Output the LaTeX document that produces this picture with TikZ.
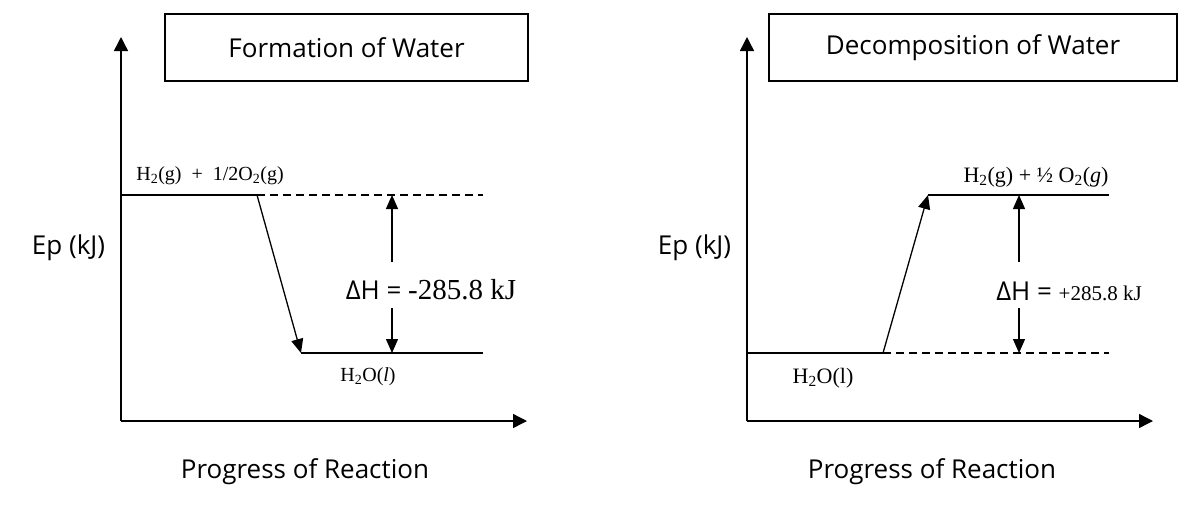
\documentclass[tikz,border=0pt]{standalone}
\usepackage{fontspec}
\setmainfont{Liberation Serif}
\newfontfamily\labelfont{Open Sans}
\usetikzlibrary{arrows.meta, positioning, calc}
\tikzset{
  titlebox/.style={draw, line width=1.3pt, align=center, inner sep=0pt,
    minimum height=67pt, font=\labelfont\fontsize{26}{30}\selectfont},
  axislabel/.style={inner sep=0pt, font=\labelfont\fontsize{26}{30}\selectfont},
  chemsmall/.style={inner sep=0pt, font=\fontsize{20}{24}\selectfont},
  chembig/.style={inner sep=0pt, font=\fontsize{22}{26}\selectfont},
  dhlabel/.style={inner sep=0pt},
  axisarrow/.style={-{Triangle[length=14pt, width=14pt]}, line width=1.4pt},
  levelline/.style={line width=1.4pt},
  guideline/.style={line width=1.2pt, dash pattern=on 8pt off 5pt},
  patharrow/.style={-{Triangle[length=14pt, width=12pt]}, line width=1.3pt},
  dharrow/.style={-{Triangle[length=14pt, width=12pt]}, line width=1.3pt},
}
\newcommand{\dhsans}{\labelfont\fontsize{26}{30}\selectfont}

\begin{document}
\begin{tikzpicture}[x=1pt, y=-1pt]
    \useasboundingbox (0,0) rectangle (1202,507);
    % formation of water
    \coordinate (o1) at (121,421);
    \coordinate (ytop1) at (121,37);
    \coordinate (xend1) at (527,421);
    \draw[axisarrow] (o1) -- (ytop1);
    \draw[axisarrow] (o1) -- (xend1);
    \node[titlebox, minimum width=363pt] (title1) at (346.5,47.5) {Formation of Water};
    \node[axislabel] (ep1) at (68.5,248) {Ep (kJ)};
    \node[axislabel] (prog1) at (305,472) {Progress of Reaction};
    \coordinate (r1a) at (121,195);
    \coordinate (r1b) at (257,195);
    \coordinate (r1c) at (483,195);
    \coordinate (p1a) at (301,353);
    \coordinate (p1b) at (483,353);
    \draw[levelline] (r1a) -- (r1b);
    \draw[guideline] (r1b) -- (r1c);
    \draw[patharrow] (r1b) -- (p1a);
    \draw[levelline] (p1a) -- (p1b);
    \node[chemsmall] (react1) at (210,176) {H\textsubscript{2}(g) \ + \ 1/2O\textsubscript{2}(g)};
    \node[chemsmall] (prod1) at (368,377) {H\textsubscript{2}O(\textit{l})};
    \node[dhlabel] (dh1) at (431,290) {{\dhsans ΔH =\ }{\fontsize{29}{33}\selectfont -285.8 kJ}};
    \coordinate (up1) at (392,262);
    \coordinate (up1end) at (392,195);
    \coordinate (dn1) at (392,308);
    \coordinate (dn1end) at (392,353);
    \draw[dharrow] (up1) -- (up1end);
    \draw[dharrow] (dn1) -- (dn1end);
    % decomposition of water
    \coordinate (o2) at (747,421);
    \coordinate (ytop2) at (747,37);
    \coordinate (xend2) at (1153,421);
    \draw[axisarrow] (o2) -- (ytop2);
    \draw[axisarrow] (o2) -- (xend2);
    \node[titlebox, minimum width=408pt] (title2) at (973,47.5) {Decomposition of Water};
    \node[axislabel] (ep2) at (694.5,248) {Ep (kJ)};
    \node[axislabel] (prog2) at (932,472) {Progress of Reaction};
    \coordinate (p2a) at (747,353);
    \coordinate (p2b) at (883,353);
    \coordinate (p2c) at (1109,353);
    \coordinate (r2a) at (928,195);
    \coordinate (r2b) at (1109,195);
    \draw[levelline] (p2a) -- (p2b);
    \draw[guideline] (p2b) -- (p2c);
    \draw[patharrow] (p2b) -- (r2a);
    \draw[levelline] (r2a) -- (r2b);
    \node[chembig] (react2) at (1036,177) {H\textsubscript{2}(g) + ½ O\textsubscript{2}(\textit{g})};
    \node[chembig] (prod2) at (823,378) {H\textsubscript{2}O(l)};
    \node[dhlabel] (dh2) at (1069,291) {{\dhsans ΔH =\ }{\fontsize{21}{25}\selectfont +285.8 kJ}};
    \coordinate (up2) at (1019,262);
    \coordinate (up2end) at (1019,195);
    \coordinate (dn2) at (1019,308);
    \coordinate (dn2end) at (1019,353);
    \draw[dharrow] (up2) -- (up2end);
    \draw[dharrow] (dn2) -- (dn2end);
\end{tikzpicture}
\end{document}
